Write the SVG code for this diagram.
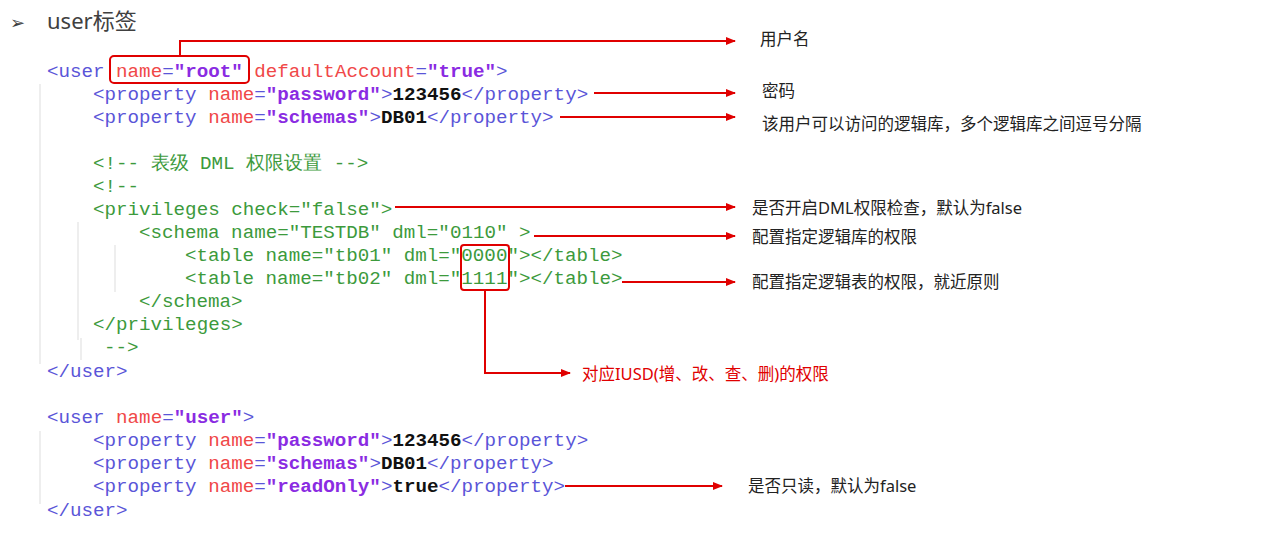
<svg xmlns="http://www.w3.org/2000/svg" width="1280" height="539" viewBox="0 0 1280 539">
<defs>
<marker id="ah" markerWidth="10" markerHeight="8" refX="9" refY="4" orient="auto" markerUnits="userSpaceOnUse"><path d="M0,0 L10,4 L0,8 Z" fill="#e00000"/></marker>
<style>
.c{font-family:"Liberation Mono","Courier New",monospace;font-size:19.2px;white-space:pre}
.t{fill:#5a55d8}.a{fill:#f04848}.v{fill:#8a2be2;font-weight:bold}.b{fill:#111;font-weight:bold}.g{fill:#3c9a3c}
.l{font-family:"Noto Sans","Noto Sans CJK SC",sans-serif;font-size:16.5px;fill:#222}
.r{stroke:#e00000;stroke-width:2;fill:none}
.gd{stroke:#ddd;stroke-width:1}
</style>
</defs>
<rect width="1280" height="539" fill="#fff"/>
<g id="title">
<text x="10" y="29" font-family="DejaVu Sans,sans-serif" font-size="18" fill="#404040">➢</text>
<text x="47" y="29" font-family="Noto Sans,Noto Sans CJK SC,sans-serif" font-size="22" fill="#404040">user标签</text>
</g>
<g id="guides">
<line class="gd" x1="40" y1="84" x2="40" y2="364"/>
<line class="gd" x1="78" y1="222" x2="78" y2="340"/>
<line class="gd" x1="115" y1="245" x2="115" y2="292"/>
<line class="gd" x1="81" y1="338" x2="81" y2="360"/>
<line class="gd" x1="40" y1="431" x2="40" y2="504"/>
</g>
<g id="code">
<text class="c" x="47" y="77"><tspan class="t">&lt;user </tspan><tspan class="a">name</tspan><tspan class="t">=</tspan><tspan class="v">"root"</tspan><tspan class="a"> defaultAccount</tspan><tspan class="t">=</tspan><tspan class="v">"true"</tspan><tspan class="t">&gt;</tspan></text>
<text class="c" x="93" y="100"><tspan class="t">&lt;property </tspan><tspan class="a">name</tspan><tspan class="t">=</tspan><tspan class="v">"password"</tspan><tspan class="t">&gt;</tspan><tspan class="b">123456</tspan><tspan class="t">&lt;/property&gt;</tspan></text>
<text class="c" x="93" y="123"><tspan class="t">&lt;property </tspan><tspan class="a">name</tspan><tspan class="t">=</tspan><tspan class="v">"schemas"</tspan><tspan class="t">&gt;</tspan><tspan class="b">DB01</tspan><tspan class="t">&lt;/property&gt;</tspan></text>
<text class="c g" x="93" y="169">&lt;!-- 表级 DML 权限设置 --&gt;</text>
<text class="c g" x="93" y="192">&lt;!--</text>
<text class="c g" x="93" y="215">&lt;privileges check="false"&gt;</text>
<text class="c g" x="139" y="238">&lt;schema name="TESTDB" dml="0110" &gt;</text>
<text class="c g" x="185" y="261">&lt;table name="tb01" dml="0000"&gt;&lt;/table&gt;</text>
<text class="c g" x="185" y="284">&lt;table name="tb02" dml="1111"&gt;&lt;/table&gt;</text>
<text class="c g" x="139" y="307">&lt;/schema&gt;</text>
<text class="c g" x="93" y="330">&lt;/privileges&gt;</text>
<text class="c g" x="104" y="353">--&gt;</text>
<text class="c t" x="47" y="377">&lt;/user&gt;</text>
<text class="c" x="47" y="423"><tspan class="t">&lt;user </tspan><tspan class="a">name</tspan><tspan class="t">=</tspan><tspan class="v">"user"</tspan><tspan class="t">&gt;</tspan></text>
<text class="c" x="93" y="446"><tspan class="t">&lt;property </tspan><tspan class="a">name</tspan><tspan class="t">=</tspan><tspan class="v">"password"</tspan><tspan class="t">&gt;</tspan><tspan class="b">123456</tspan><tspan class="t">&lt;/property&gt;</tspan></text>
<text class="c" x="93" y="469"><tspan class="t">&lt;property </tspan><tspan class="a">name</tspan><tspan class="t">=</tspan><tspan class="v">"schemas"</tspan><tspan class="t">&gt;</tspan><tspan class="b">DB01</tspan><tspan class="t">&lt;/property&gt;</tspan></text>
<text class="c" x="93" y="492"><tspan class="t">&lt;property </tspan><tspan class="a">name</tspan><tspan class="t">=</tspan><tspan class="v">"readOnly"</tspan><tspan class="t">&gt;</tspan><tspan class="b">true</tspan><tspan class="t">&lt;/property&gt;</tspan></text>
<text class="c t" x="47" y="516">&lt;/user&gt;</text>
</g>
<g id="connectors">
<rect class="r" x="110" y="56" width="139" height="27" rx="4"/>
<rect class="r" x="461" y="245" width="48" height="45" rx="3"/>
<polyline class="r" points="180,56 180,41 735,41" marker-end="url(#ah)"/>
<line class="r" x1="594" y1="93" x2="735" y2="93" marker-end="url(#ah)"/>
<line class="r" x1="560" y1="117" x2="735" y2="117" marker-end="url(#ah)"/>
<line class="r" x1="395" y1="207" x2="735" y2="207" marker-end="url(#ah)"/>
<line class="r" x1="534" y1="236" x2="735" y2="236" marker-end="url(#ah)"/>
<line class="r" x1="622" y1="282" x2="735" y2="282" marker-end="url(#ah)"/>
<polyline class="r" points="485,290 485,373 570,373" marker-end="url(#ah)"/>
<line class="r" x1="565" y1="486" x2="722" y2="486" marker-end="url(#ah)"/>
</g>
<g id="labels">
<text class="l" x="760" y="45">用户名</text>
<text class="l" x="762" y="97">密码</text>
<text class="l" x="762" y="130">该用户可以访问的逻辑库，多个逻辑库之间逗号分隔</text>
<text class="l" x="752" y="214">是否开启DML权限检查，默认为false</text>
<text class="l" x="752" y="243">配置指定逻辑库的权限</text>
<text class="l" x="752" y="288">配置指定逻辑表的权限，就近原则</text>
<text class="l" x="582" y="380" style="fill:#e00000">对应IUSD(增、改、查、删)的权限</text>
<text class="l" x="748" y="492">是否只读，默认为false</text>
</g>
</svg>
